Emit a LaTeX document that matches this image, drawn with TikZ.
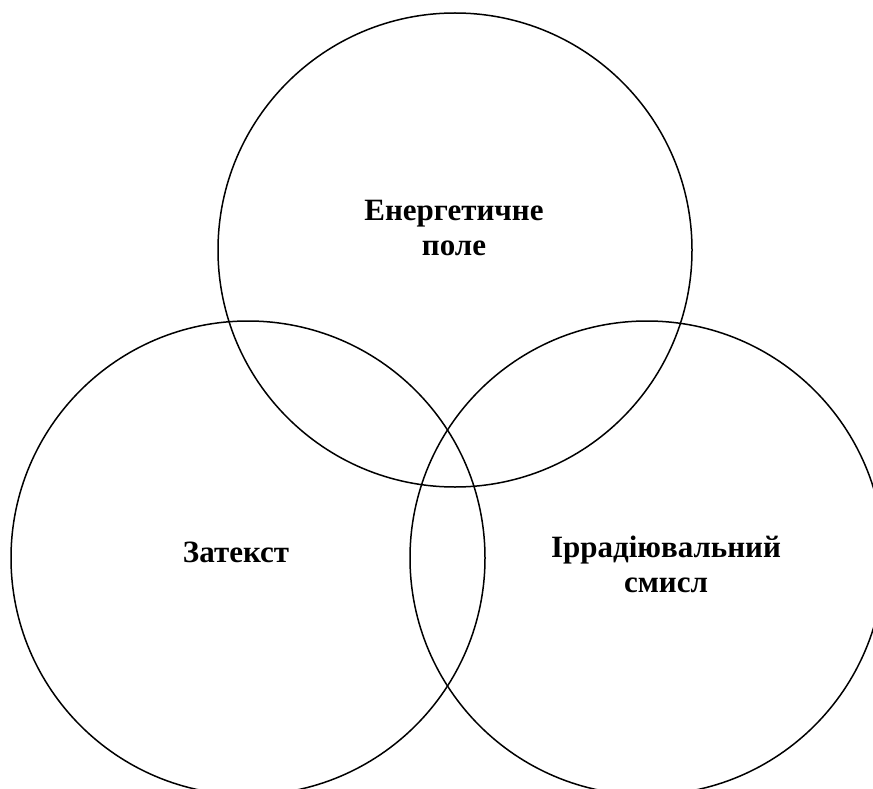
\documentclass[tikz,border=0pt]{standalone}
\usepackage{fontspec}
\setmainfont{Liberation Serif}

\tikzset{
    ring/.style={draw, line width=1.5pt},
    circlabel/.style={font=\bfseries\fontsize{31}{35}\selectfont, align=center}
}

\begin{document}
\begin{tikzpicture}[x=1pt,y=-1pt]
    % Fix the page size to the reference
    \useasboundingbox (0,0) rectangle (873,789);
    \clip (0,0) rectangle (873,789);

    % Draw the three circles
    \draw[ring] (455,250) circle[radius=237]; % Top circle
    \draw[ring] (248,558) circle[radius=237]; % Left circle
    \draw[ring] (647,558) circle[radius=237]; % Right circle

    % Label the circles
    \node[circlabel] (pole) at (454,228) {Енергетичне\\поле};
    \node[circlabel, anchor=base] (zatekst) at (236,562) {Затекст};
    \node[circlabel] (smysl) at (666,564) {Іррадіювальний\\смисл};
\end{tikzpicture}
\end{document}
